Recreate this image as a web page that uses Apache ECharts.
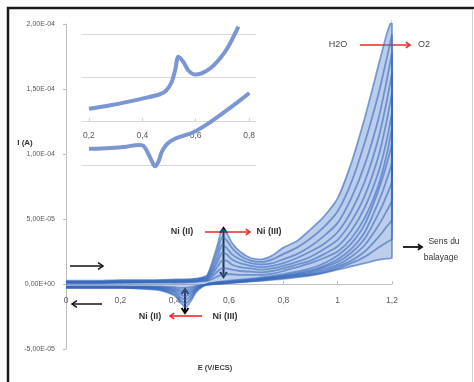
<!DOCTYPE html>
<html><head><meta charset="utf-8">
<script src="https://cdn.jsdelivr.net/npm/echarts@6/dist/echarts.min.js"></script>
<style>html,body{margin:0;padding:0;background:#fff}#c{width:474px;height:382px}</style>
</head><body><div id="c"></div>
<script>
// ---- main axis ticks (current in units of 1e-5 A) ----
const xTicks = [0, 0.2, 0.4, 0.6, 0.8, 1, 1.2];
const xTickLabels = ['0', '0,2', '0,4', '0,6', '0,8', '1', '1,2'];
const yTicks = [-5, 0, 5, 10, 15, 20];
const yTickLabels = ['-5,00E-05', '0,00E+00', '5,00E-05', '1,00E-04', '1,50E-04', '2,00E-04'];

// ---- main CV: potentials of forward and reverse sweeps ----
const eForward = [0, 0.1, 0.2, 0.3, 0.4, 0.47, 0.5, 0.52, 0.54, 0.56, 0.575, 0.59, 0.61, 0.64, 0.68, 0.72, 0.76, 0.8, 0.85, 0.9, 0.95, 1.0, 1.05, 1.1, 1.15, 1.18, 1.2];
const eReverse = [1.2, 1.18, 1.15, 1.1, 1.05, 1.0, 0.95, 0.9, 0.8, 0.7, 0.6, 0.52, 0.48, 0.46, 0.44, 0.42, 0.4, 0.35, 0.3, 0.2, 0.1, 0];

// forward currents per cycle (1e-5 A)
const fwdA = [0.25, 0.25, 0.3, 0.3, 0.35, 0.4, 0.5, 0.7, 1.8, 3.2, 4.2, 4.0, 3.2, 2.5, 2.0, 1.9, 2.2, 2.8, 3.3, 4.2, 5.2, 6.6, 9.3, 12.8, 16.8, 19.2, 20.4];
const fwdB = [0.2, 0.2, 0.25, 0.25, 0.3, 0.35, 0.45, 0.6, 1.5, 2.7, 3.6, 3.4, 2.8, 2.2, 1.8, 1.7, 1.9, 2.3, 2.8, 3.5, 4.4, 5.6, 7.8, 10.9, 14.6, 17.3, 19.2];
const fwdC = [0.15, 0.15, 0.2, 0.2, 0.25, 0.3, 0.4, 0.5, 1.2, 2.2, 3.0, 2.8, 2.3, 1.9, 1.6, 1.5, 1.6, 1.9, 2.3, 2.9, 3.7, 4.7, 6.6, 9.2, 12.7, 15.6, 17.8];
const fwdD = [0.15, 0.15, 0.15, 0.2, 0.2, 0.25, 0.35, 0.45, 1.0, 1.8, 2.4, 2.3, 1.9, 1.6, 1.4, 1.3, 1.4, 1.6, 2.0, 2.5, 3.1, 4.0, 5.6, 7.9, 11.2, 14.0, 16.2];
const fwdE = [0.1, 0.1, 0.15, 0.15, 0.2, 0.2, 0.3, 0.4, 0.8, 1.4, 1.8, 1.8, 1.5, 1.3, 1.2, 1.1, 1.2, 1.4, 1.7, 2.1, 2.7, 3.4, 4.8, 6.8, 9.8, 12.5, 14.7];
const fwdF = [0.1, 0.1, 0.1, 0.15, 0.15, 0.2, 0.25, 0.3, 0.6, 1.0, 1.2, 1.2, 1.1, 1.0, 0.95, 0.9, 1.0, 1.2, 1.5, 1.8, 2.3, 2.9, 4.1, 5.9, 8.6, 11.0, 13.2];
const fwdG = [0.05, 0.05, 0.1, 0.1, 0.1, 0.15, 0.2, 0.25, 0.4, 0.6, 0.7, 0.75, 0.75, 0.7, 0.7, 0.7, 0.8, 1.0, 1.3, 1.6, 2.0, 2.5, 3.5, 5.1, 7.6, 9.9, 12.0];

// reverse currents per cycle (1e-5 A)
const revA = [11, 9.2, 7.2, 4.6, 3.1, 2.2, 1.6, 1.2, 0.75, 0.45, 0.25, 0.0, -0.6, -1.3, -1.8, -1.4, -0.9, -0.5, -0.4, -0.3, -0.3, -0.3];
const revB = [9.5, 8.0, 6.3, 4.0, 2.7, 1.9, 1.4, 1.05, 0.65, 0.4, 0.2, 0.0, -0.5, -1.1, -1.5, -1.2, -0.8, -0.45, -0.35, -0.3, -0.3, -0.3];
const revC = [8.0, 6.8, 5.4, 3.5, 2.4, 1.7, 1.3, 0.95, 0.6, 0.35, 0.15, 0.0, -0.4, -0.9, -1.2, -1.0, -0.65, -0.4, -0.3, -0.25, -0.25, -0.25];
const revD = [6.5, 5.6, 4.5, 3.0, 2.1, 1.5, 1.15, 0.85, 0.55, 0.3, 0.12, -0.05, -0.35, -0.7, -0.95, -0.8, -0.55, -0.35, -0.3, -0.25, -0.25, -0.25];
const revE = [5.0, 4.4, 3.6, 2.5, 1.8, 1.35, 1.0, 0.75, 0.5, 0.28, 0.1, -0.05, -0.3, -0.55, -0.7, -0.6, -0.45, -0.3, -0.25, -0.2, -0.2, -0.2];
const revF = [3.5, 3.2, 2.8, 2.1, 1.6, 1.2, 0.9, 0.7, 0.45, 0.25, 0.08, -0.05, -0.2, -0.4, -0.5, -0.45, -0.35, -0.25, -0.2, -0.2, -0.2, -0.2];
const revG = [2.0, 1.95, 1.85, 1.6, 1.35, 1.1, 0.85, 0.65, 0.4, 0.22, 0.06, -0.05, -0.15, -0.25, -0.3, -0.3, -0.25, -0.2, -0.2, -0.2, -0.2, -0.2];

// ---- inset (zoom of the Ni(II)/Ni(III) couple, arbitrary units) ----
const insetTicks = [0.2, 0.4, 0.6, 0.8];
const insetTickLabels = ['0,2', '0,4', '0,6', '0,8'];
const insetUpE = [0.2, 0.28, 0.34, 0.40, 0.466, 0.49, 0.51, 0.523, 0.535, 0.554, 0.572, 0.598, 0.622, 0.654, 0.691, 0.722, 0.76];
const insetUpI = [0.29, 0.37, 0.44, 0.52, 0.62, 0.71, 0.90, 1.17, 1.48, 1.36, 1.17, 1.07, 1.10, 1.21, 1.44, 1.71, 2.17];
const insetLowE = [0.2, 0.28, 0.34, 0.385, 0.404, 0.419, 0.435, 0.447, 0.46, 0.473, 0.491, 0.522, 0.591, 0.654, 0.716, 0.766, 0.801];
const insetLowI = [-0.63, -0.61, -0.58, -0.54, -0.56, -0.70, -0.90, -1.03, -0.93, -0.70, -0.53, -0.40, -0.25, -0.02, 0.25, 0.48, 0.65];

const forwards = [fwdA, fwdB, fwdC, fwdD, fwdE, fwdF, fwdG];
const reverses = [revA, revB, revC, revD, revE, revF, revG];

const chart = echarts.init(document.getElementById('c'), null, {renderer: 'canvas'});
const FONT = 'Liberation Sans';
const labelGray = '#595959';

function cycleData(f, r) {
  const d = [];
  eForward.forEach((e, i) => d.push([e, f[i]]));
  eReverse.forEach((e, i) => d.push([e, r[i]]));
  return d;
}
const cvSeries = forwards.map((f, k) => ({
  type: 'line', xAxisIndex: 0, yAxisIndex: 0,
  data: cycleData(f, reverses[k]),
  smooth: 0.25, showSymbol: false, silent: true, z: 3,
  lineStyle: {color: '#3769bd', width: 1.8, opacity: 0.6}
}));
// outer envelope of all cycles (for the hatched band fill)
const envelope = eForward.map((e, i) => [e, Math.max(...forwards.map(f => f[i]))])
  .concat(eReverse.map((e, i) => [e, Math.min(...reverses.map(r => r[i]))]));

function zip(a, b) { return a.map((v, i) => [v, b[i]]); }

// ---- annotation helpers (pixel graphics) ----
function head(x1, y1, x2, y2, color, w, size) {
  const a = Math.atan2(y2 - y1, x2 - x1);
  const s = size || 5;
  return {type: 'polyline', silent: true, shape: {points: [
    [x2 - s * Math.cos(a - 0.6), y2 - s * Math.sin(a - 0.6)], [x2, y2],
    [x2 - s * Math.cos(a + 0.6), y2 - s * Math.sin(a + 0.6)]]},
    style: {stroke: color, lineWidth: w, fill: null}};
}
function arrow(x1, y1, x2, y2, color, w, both, size) {
  const g = [{type: 'line', silent: true, shape: {x1, y1, x2, y2}, style: {stroke: color, lineWidth: w}}];
  g.push(head(x1, y1, x2, y2, color, w, size));
  if (both) g.push(head(x2, y2, x1, y1, color, w, size));
  return g;
}
function txt(x, y, t, opt) {
  return Object.assign({type: 'text', silent: true, x, y, z: 100, style: Object.assign({
    text: t, font: 'bold 9px ' + FONT, fill: '#333', align: 'center', verticalAlign: 'middle'}, opt || {})});
}

const graphics = [].concat(
  [{type: 'polyline', silent: true, shape: {points: [[8, 382], [8, 8], [474, 8]]}, style: {stroke: '#1a1a1a', lineWidth: 2.5, fill: null}},
   {type: 'line', silent: true, shape: {x1: 472.5, y1: 9, x2: 472.5, y2: 382}, style: {stroke: '#d0d0d0', lineWidth: 1}}],
  [txt(25, 143, 'I (A)', {font: 'bold 8px ' + FONT})],
  [txt(215, 368, 'E (V/ECS)', {font: 'bold 7.5px ' + FONT, fill: '#404040'})],
  arrow(70, 266, 103, 266, '#111', 1.5, false, 6),
  arrow(102, 304, 72, 304, '#111', 1.5, false, 6),
  [txt(182, 232, 'Ni (II)'), txt(269, 232, 'Ni (III)')],
  arrow(205, 232, 250, 232, '#ee2a2a', 1.6, false, 5),
  arrow(223.5, 228, 223.5, 277, '#000', 2, true, 6),
  [txt(150, 317, 'Ni (II)'), txt(225, 317, 'Ni (III)')],
  arrow(202, 316, 170, 316, '#ee2a2a', 1.6, false, 5),
  arrow(185, 289, 185, 313, '#000', 2, true, 6),
  [txt(338, 45, 'H2O', {font: '9px ' + FONT, fill: '#444'}), txt(424, 45, 'O2', {font: '9px ' + FONT, fill: '#444'})],
  arrow(360, 45, 410, 45, '#ee2a2a', 1.6, false, 5),
  arrow(403, 247, 422, 247, '#111', 1.8, false, 5),
  [txt(444, 242, 'Sens du', {font: '8.5px ' + FONT, fill: '#333'}), txt(441, 258, 'balayage', {font: '8.5px ' + FONT, fill: '#333'})]
);

chart.setOption({
  animation: false,
  backgroundColor: '#fff',
  grid: [
    {left: 66, right: 82, top: 24, bottom: 33},
    {left: 82, right: 218, top: 34, bottom: 217}
  ],
  xAxis: [
    {gridIndex: 0, type: 'value', min: 0, max: 1.2, interval: 0.2, position: 'bottom', offset: -65,
     axisLine: {onZero: false, lineStyle: {color: '#bfbfbf'}},
     axisTick: {inside: true, length: 3, lineStyle: {color: '#bfbfbf'}},
     splitLine: {show: false},
     axisLabel: {margin: 12, fontSize: 8.5, color: labelGray, fontFamily: FONT,
       formatter: v => { const i = xTicks.findIndex(t => Math.abs(t - v) < 1e-6); return i >= 0 ? xTickLabels[i] : ''; }}},
    {gridIndex: 1, type: 'value', min: 0.174, max: 0.826, position: 'bottom', offset: -43.7,
     axisLine: {onZero: false, lineStyle: {color: '#d9d9d9'}},
     axisTick: {customValues: insetTicks, length: 3, inside: true, lineStyle: {color: '#d0d0d0'}},
     splitLine: {show: false},
     axisLabel: {customValues: insetTicks, margin: 10, fontSize: 8.5, color: labelGray, fontFamily: FONT,
       formatter: v => { const i = insetTicks.findIndex(t => Math.abs(t - v) < 1e-6); return i >= 0 ? insetTickLabels[i] : ''; }}}
  ],
  yAxis: [
    {gridIndex: 0, type: 'value', min: -5, max: 20, interval: 5,
     axisLine: {show: true, lineStyle: {color: '#bfbfbf'}},
     axisTick: {show: true, length: 3, lineStyle: {color: '#bfbfbf'}},
     splitLine: {show: false},
     axisLabel: {margin: 11, fontSize: 7, color: labelGray, fontFamily: FONT,
       formatter: v => { const i = yTicks.findIndex(t => Math.abs(t - v) < 1e-6); return i >= 0 ? yTickLabels[i] : ''; }}},
    {gridIndex: 1, type: 'value', min: -1, max: 2, interval: 1,
     axisLine: {show: false}, axisTick: {show: false}, axisLabel: {show: false},
     splitLine: {show: true, lineStyle: {color: '#d9d9d9'}}}
  ],
  series: [{
    type: 'custom', xAxisIndex: 0, yAxisIndex: 0, data: envelope, silent: true, z: 2,
    renderItem: (params, api) => {
      if (params.dataIndex !== 0) return null;
      const pts = envelope.map(p => api.coord(p));
      return {type: 'polygon', shape: {points: pts}, style: {fill: 'rgba(90,132,208,0.4)'}};
    }
  }].concat(cvSeries).concat([
    {type: 'line', xAxisIndex: 1, yAxisIndex: 1, data: zip(insetUpE, insetUpI), smooth: 0.3,
     showSymbol: false, clip: false, silent: true, lineStyle: {color: '#7b96d2', width: 4}},
    {type: 'line', xAxisIndex: 1, yAxisIndex: 1, data: zip(insetLowE, insetLowI), smooth: 0.3,
     showSymbol: false, clip: false, silent: true, lineStyle: {color: '#7b96d2', width: 4}}
  ]),
  graphic: graphics
});
</script></body></html>
